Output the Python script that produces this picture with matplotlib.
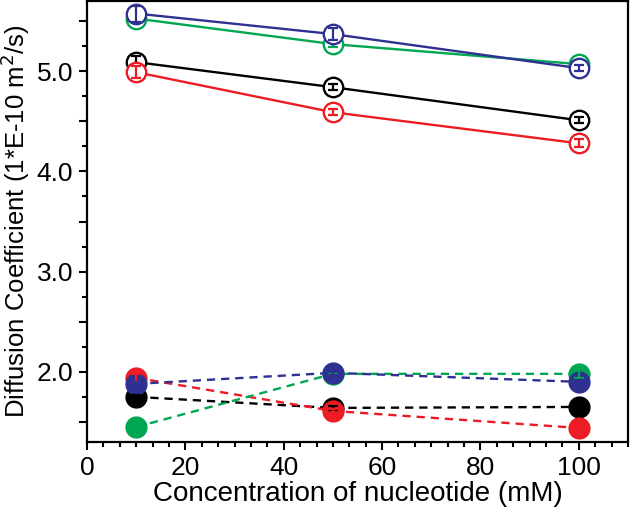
import matplotlib
matplotlib.use("Agg")
import matplotlib.pyplot as plt
from matplotlib.ticker import MultipleLocator, FuncFormatter

plt.rcParams['font.family'] = ['Liberation Sans', 'DejaVu Sans']

# concentrations (mM)
conc = [10, 50, 100]

# open circles, solid lines
black_open = [5.09, 4.84, 4.51]
red_open = [4.99, 4.59, 4.28]
green_open = [5.525, 5.27, 5.07]
blue_open = [5.575, 5.37, 5.03]
black_open_err = [0.06, 0.03, 0.03]
red_open_err = [0.06, 0.03, 0.04]
green_open_err = [0.03, 0.03, 0.03]
blue_open_err = [0.08, 0.06, 0.03]

# filled circles, dashed lines
black_fill = [1.75, 1.64, 1.65]
red_fill = [1.94, 1.61, 1.44]
green_fill = [1.45, 1.98, 1.98]
blue_fill = [1.88, 1.99, 1.90]
black_fill_err = [0.02, 0.02, 0.02]
red_fill_err = [0.04, 0.02, 0.02]
green_fill_err = [0.02, 0.0, 0.04]
blue_fill_err = [0.02, 0.02, 0.02]

colors = {'black': '#000000', 'red': '#ed1c24', 'green': '#00a651', 'blue': '#2e3192'}

fig = plt.figure(figsize=(6.3, 5.13), dpi=100)
ax = fig.add_axes([87 / 630, 1 - 442 / 513, 541 / 630, 441 / 513])

series = [
    ('black', black_open, black_open_err, black_fill, black_fill_err),
    ('red', red_open, red_open_err, red_fill, red_fill_err),
    ('green', green_open, green_open_err, green_fill, green_fill_err),
    ('blue', blue_open, blue_open_err, blue_fill, blue_fill_err),
]

for i, (name, yo, eo, yf, ef) in enumerate(series):
    c = colors[name]
    z = 2 + i
    # solid line + open circles
    ax.plot(conc, yo, '-', color=c, lw=1.7, zorder=z)
    ax.plot(conc, yo, 'o', ms=14, mfc='white', mec=c, mew=1.7, zorder=z)
    ax.errorbar(conc, yo, yerr=eo, fmt='none', ecolor=c, elinewidth=1.6,
                capsize=3.5, capthick=1.6, zorder=z + 0.5)
    # dashed line + filled circles
    ax.plot(conc, yf, '--', color=c, lw=1.7, dashes=(3.5, 2.5), zorder=z)
    ax.plot(conc, yf, 'o', ms=15, mfc=c, mec=c, zorder=z)
    ax.errorbar(conc, yf, yerr=ef, fmt='none', ecolor=c, elinewidth=1.6,
                capsize=3.5, capthick=1.6, zorder=10)

ax.set_xlim(0, 110)
ax.set_ylim(1.3, 5.7)

ax.xaxis.set_major_locator(MultipleLocator(20))
ax.xaxis.set_minor_locator(MultipleLocator(20 / 6))
ax.yaxis.set_major_locator(MultipleLocator(0.5))
ax.yaxis.set_minor_locator(MultipleLocator(0.25))
ax.yaxis.set_major_formatter(FuncFormatter(
    lambda v, p: '%.1f' % v if abs(v - round(v)) < 1e-6 else ''))

ax.tick_params(which='major', direction='out', length=6, width=1.5, labelsize=19, pad=4)
ax.tick_params(which='minor', direction='out', length=3.5, width=1.5)
for s in ax.spines.values():
    s.set_linewidth(1.6)

ax.set_xlabel('Concentration of nucleotide (mM)', fontsize=20, labelpad=1)
ax.set_ylabel('Diffusion Coefficient (1*E-10 m$^2$/s)', fontsize=18.5, labelpad=3)

fig.savefig('out.png', dpi=100)
